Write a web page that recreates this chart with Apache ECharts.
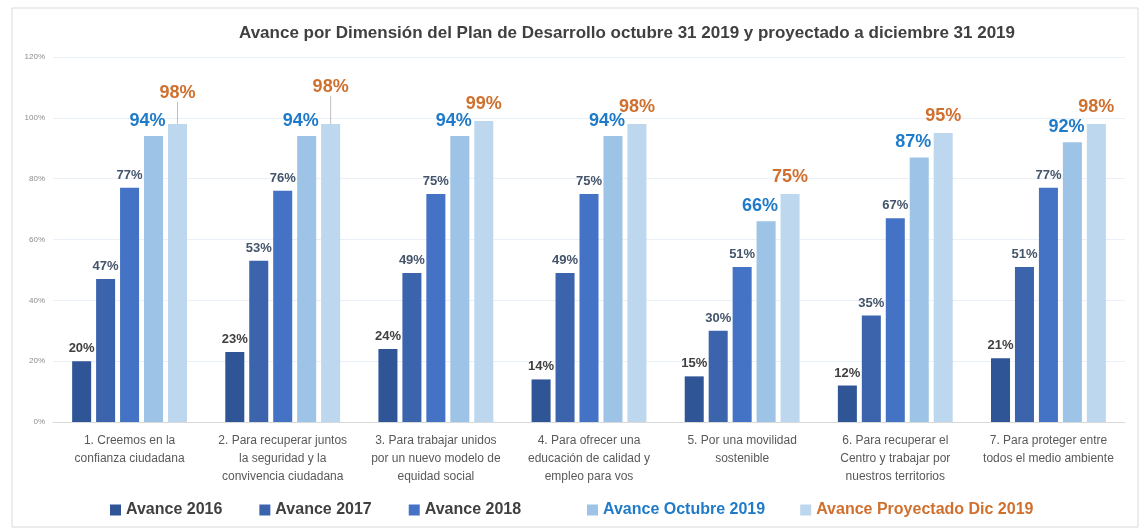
<!DOCTYPE html>
<html>
<head>
<meta charset="utf-8">
<script src="https://cdn.jsdelivr.net/npm/echarts@6/dist/echarts.min.js"></script>
<style>
  html, body { margin: 0; padding: 0; background: #fff; }
  #chart { width: 1140px; height: 529px; }
</style>
</head>
<body>
<div id="chart"></div>
<script>
const categories = [
  '1. Creemos en la\nconfianza ciudadana',
  '2. Para recuperar juntos\nla seguridad y la\nconvivencia ciudadana',
  '3. Para trabajar unidos\npor un nuevo modelo de\nequidad social',
  '4. Para ofrecer una\neducación de calidad y\nempleo para vos',
  '5. Por una movilidad\nsostenible',
  '6. Para recuperar el\nCentro y trabajar por\nnuestros territorios',
  '7. Para proteger entre\ntodos el medio ambiente'
]
const avance2016 = [20, 23, 24, 14, 15, 12, 21]
const avance2017 = [47, 53, 49, 49, 30, 35, 51]
const avance2018 = [77, 76, 75, 75, 51, 67, 77]
const avanceOct2019 = [94, 94, 94, 94, 66, 87, 92]
const proyectadoDic2019 = [98, 98, 99, 98, 75, 95, 98]

const FONT = '"Liberation Sans", Arial, sans-serif'

function barSeries(name, data, color, label) {
  return {
    name,
    type: 'bar',
    data,
    itemStyle: { color },
    label: Object.assign({
      show: true,
      position: 'top',
      distance: 6,
      fontFamily: FONT,
      fontWeight: 'bold',
      formatter: '{c}%'
    }, label)
  }
}

const legendText = { fontSize: 16, fontWeight: 'bold', color: '#404040', fontFamily: FONT }

const chart = echarts.init(document.getElementById('chart'))

// en las dos primeras dimensiones la etiqueta está desplazada con línea guía
const projData = proyectadoDic2019.map((v, i) => i < 2 ? { value: v, labelLine: { show: true } } : v)
const proj = barSeries('Avance Proyectado Dic 2019', projData, '#BDD7EE', { fontSize: 18, color: '#D0702E', distance: 8 })
proj.labelLayout = function (p) {
  if (p.dataIndex === 0) return { dy: -14 }
  if (p.dataIndex === 1) return { dy: -20 }
  return {}
}
proj.labelLine = { show: false, lineStyle: { color: '#BFBFBF', width: 1 } }

chart.setOption({
  animation: false,
  textStyle: { fontFamily: FONT },
  title: {
    text: 'Avance por Dimensión del Plan de Desarrollo octubre 31 2019 y proyectado a diciembre 31 2019',
    left: 622,
    top: 20,
    textAlign: 'center',
    textStyle: { fontSize: 17, fontWeight: 'bold', color: '#404040', fontFamily: FONT }
  },
  graphic: [{
    type: 'rect',
    shape: { x: 12, y: 8, width: 1126, height: 519 },
    style: { fill: 'none', stroke: '#D9D9D9', lineWidth: 1 },
    silent: true
  }],
  legend: [
    {
      left: 105,
      bottom: 6,
      itemWidth: 11,
      itemHeight: 11,
      itemGap: 37,
      icon: 'rect',
      textStyle: legendText,
      data: ['Avance 2016', 'Avance 2017', 'Avance 2018']
    },
    {
      left: 582,
      bottom: 6,
      itemWidth: 11,
      itemHeight: 11,
      itemGap: 35,
      icon: 'rect',
      textStyle: legendText,
      data: [
        { name: 'Avance Octubre 2019', textStyle: { color: '#1F7BC9' } },
        { name: 'Avance Proyectado Dic 2019', textStyle: { color: '#D0702E' } }
      ]
    }
  ],
  grid: { left: 53, right: 15, top: 57, bottom: 107 },
  xAxis: {
    type: 'category',
    data: categories,
    axisTick: { show: false },
    axisLine: { lineStyle: { color: '#D9D9D9' } },
    axisLabel: { fontSize: 12, color: '#595959', lineHeight: 18, margin: 10, interval: 0 }
  },
  yAxis: {
    type: 'value',
    min: 0,
    max: 120,
    interval: 20,
    axisLabel: { formatter: '{value}%', fontSize: 8, color: '#8C8C8C' },
    splitLine: { lineStyle: { color: '#EAF0F8' } },
    axisLine: { show: false },
    axisTick: { show: false }
  },
  series: [
    barSeries('Avance 2016', avance2016, '#2F5597', { fontSize: 13, color: '#404040' }),
    Object.assign(barSeries('Avance 2017', avance2017, '#3B64AD', { fontSize: 13, color: '#44546A' }), {
      barGap: '26%', barCategoryGap: '25%'
    }),
    barSeries('Avance 2018', avance2018, '#4472C4', { fontSize: 13, color: '#44546A' }),
    barSeries('Avance Octubre 2019', avanceOct2019, '#9DC3E6', { fontSize: 18, color: '#1F7BC9', offset: [-6, 0] }),
    proj
  ]
})
</script>
</body>
</html>
